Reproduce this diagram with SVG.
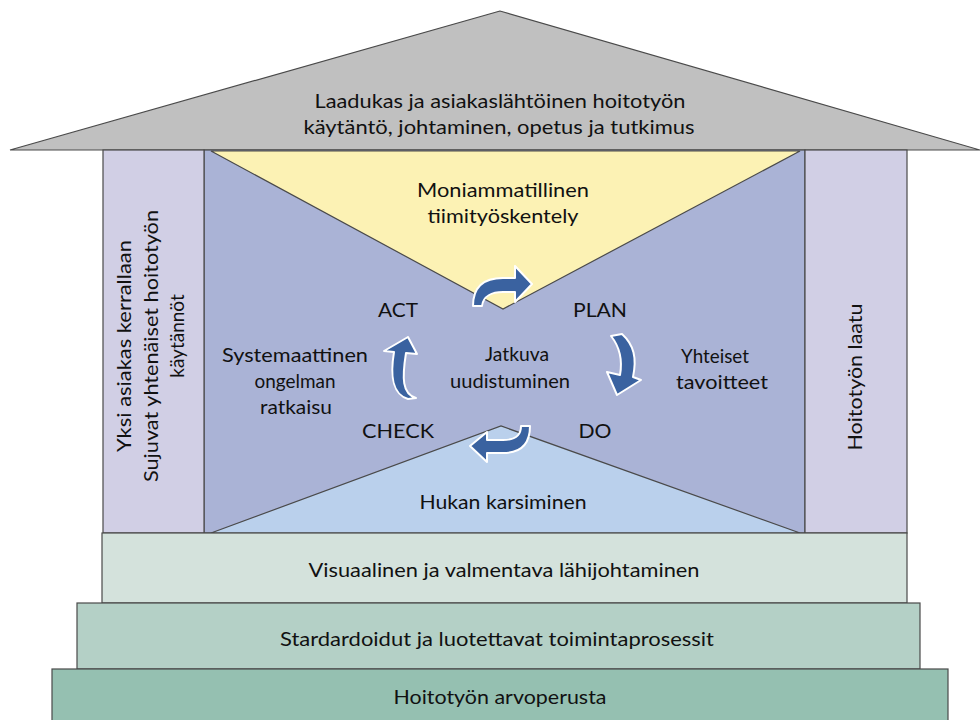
<svg xmlns="http://www.w3.org/2000/svg" width="980" height="720" viewBox="0 0 980 720">
<style>
text{font-family:Lato,"Noto Sans","DejaVu Sans",sans-serif;font-size:19px;fill:#111;text-anchor:middle}
.edge{stroke:#4a4a4a;stroke-width:1.2}
.arrow{fill:#3a62a0;stroke:#fff;stroke-width:2;stroke-linejoin:round}
</style>
<rect width="980" height="720" fill="#fff"/>
<g id="roof">
<polygon class="edge" points="500,11 10,150 980,150" fill="#c0c0c0"/>
<text x="500" y="108" textLength="371" lengthAdjust="spacingAndGlyphs">Laadukas ja asiakaslähtöinen hoitotyön</text>
<text x="499" y="134" textLength="391" lengthAdjust="spacingAndGlyphs">käytäntö, johtaminen, opetus ja tutkimus</text>
</g>
<g id="center">
<rect class="edge" x="204" y="150" width="601" height="383" fill="#aab3d6"/>
<polygon class="edge" points="211,151 800,151 503,309" fill="#fcf2b4"/>
<polygon class="edge" points="211,533 800,533 501,426" fill="#bad0ec"/>
<text x="503" y="197" textLength="172" lengthAdjust="spacingAndGlyphs">Moniammatillinen</text>
<text x="503" y="223" textLength="151" lengthAdjust="spacingAndGlyphs">tiimityöskentely</text>
<text x="517" y="361" textLength="64" lengthAdjust="spacingAndGlyphs">Jatkuva</text>
<text x="510" y="388" textLength="120" lengthAdjust="spacingAndGlyphs">uudistuminen</text>
<text x="503" y="509" textLength="167" lengthAdjust="spacingAndGlyphs">Hukan karsiminen</text>
</g>
<g id="act"><text x="398" y="317" textLength="40" lengthAdjust="spacingAndGlyphs">ACT</text></g>
<g id="plan"><text x="600" y="317" textLength="54" lengthAdjust="spacingAndGlyphs">PLAN</text></g>
<g id="check"><text x="398" y="438" textLength="72" lengthAdjust="spacingAndGlyphs">CHECK</text></g>
<g id="do"><text x="595" y="438" textLength="33" lengthAdjust="spacingAndGlyphs">DO</text></g>
<g id="systemaattinen">
<text x="295" y="362" textLength="146" lengthAdjust="spacingAndGlyphs">Systemaattinen</text>
<text x="295" y="388" textLength="81" lengthAdjust="spacingAndGlyphs">ongelman</text>
<text x="296" y="414" textLength="72" lengthAdjust="spacingAndGlyphs">ratkaisu</text>
</g>
<g id="yhteiset">
<text x="715" y="363" textLength="68" lengthAdjust="spacingAndGlyphs">Yhteiset</text>
<text x="722" y="389" textLength="92" lengthAdjust="spacingAndGlyphs">tavoitteet</text>
</g>
<g id="connectors">
<path class="arrow" d="M473 306 C473 286 484 278 503 278 L515 278 L515 266 L532 284 L515 302 L515 292 L503 292 C492 292 483 296 482 306 Z"/>
<path class="arrow" d="M530 426 C530 445 520 453 503 453 L487 453 L487 462 L470 446 L487 432 L487 440 L503 440 C515 440 521 436 521 426 Z"/>
<path class="arrow" d="M416 398 C402 394 402 378 406 353 L417 354 L408 337 L384 351 L394 352 C390 376 392 394 408 399 Z"/>
<path class="arrow" d="M611 336 L622 334 C634 345 637 358 633 377 L641 380 L617 395 L607 372 L620 375 C623 358 619 346 611 336 Z"/>
</g>
<g id="left-pillar">
<rect class="edge" x="103" y="150" width="101" height="383" fill="#d1cfe5"/>
<text transform="translate(131,346) rotate(-90)" textLength="212" lengthAdjust="spacingAndGlyphs">Yksi asiakas kerrallaan</text>
<text transform="translate(158,346) rotate(-90)" textLength="272" lengthAdjust="spacingAndGlyphs">Sujuvat yhtenäiset hoitotyön</text>
<text transform="translate(184,336) rotate(-90)">käytännöt</text>
</g>
<g id="right-pillar">
<rect class="edge" x="805" y="150" width="102" height="383" fill="#d1cfe5"/>
<text transform="translate(862,377) rotate(-90)" textLength="147" lengthAdjust="spacingAndGlyphs">Hoitotyön laatu</text>
</g>
<g id="bar1">
<rect class="edge" x="102" y="533" width="805" height="70" fill="#d4e2dc"/>
<text x="504" y="577" textLength="391" lengthAdjust="spacingAndGlyphs">Visuaalinen ja valmentava lähijohtaminen</text>
</g>
<g id="bar2">
<rect class="edge" x="77" y="603" width="843" height="66" fill="#b4d0c6"/>
<text x="497" y="646" textLength="434" lengthAdjust="spacingAndGlyphs">Stardardoidut ja luotettavat toimintaprosessit</text>
</g>
<g id="bar3">
<rect class="edge" x="52" y="669" width="896" height="60" fill="#95c0b1"/>
<text x="500" y="704" textLength="213" lengthAdjust="spacingAndGlyphs">Hoitotyön arvoperusta</text>
</g>
</svg>
